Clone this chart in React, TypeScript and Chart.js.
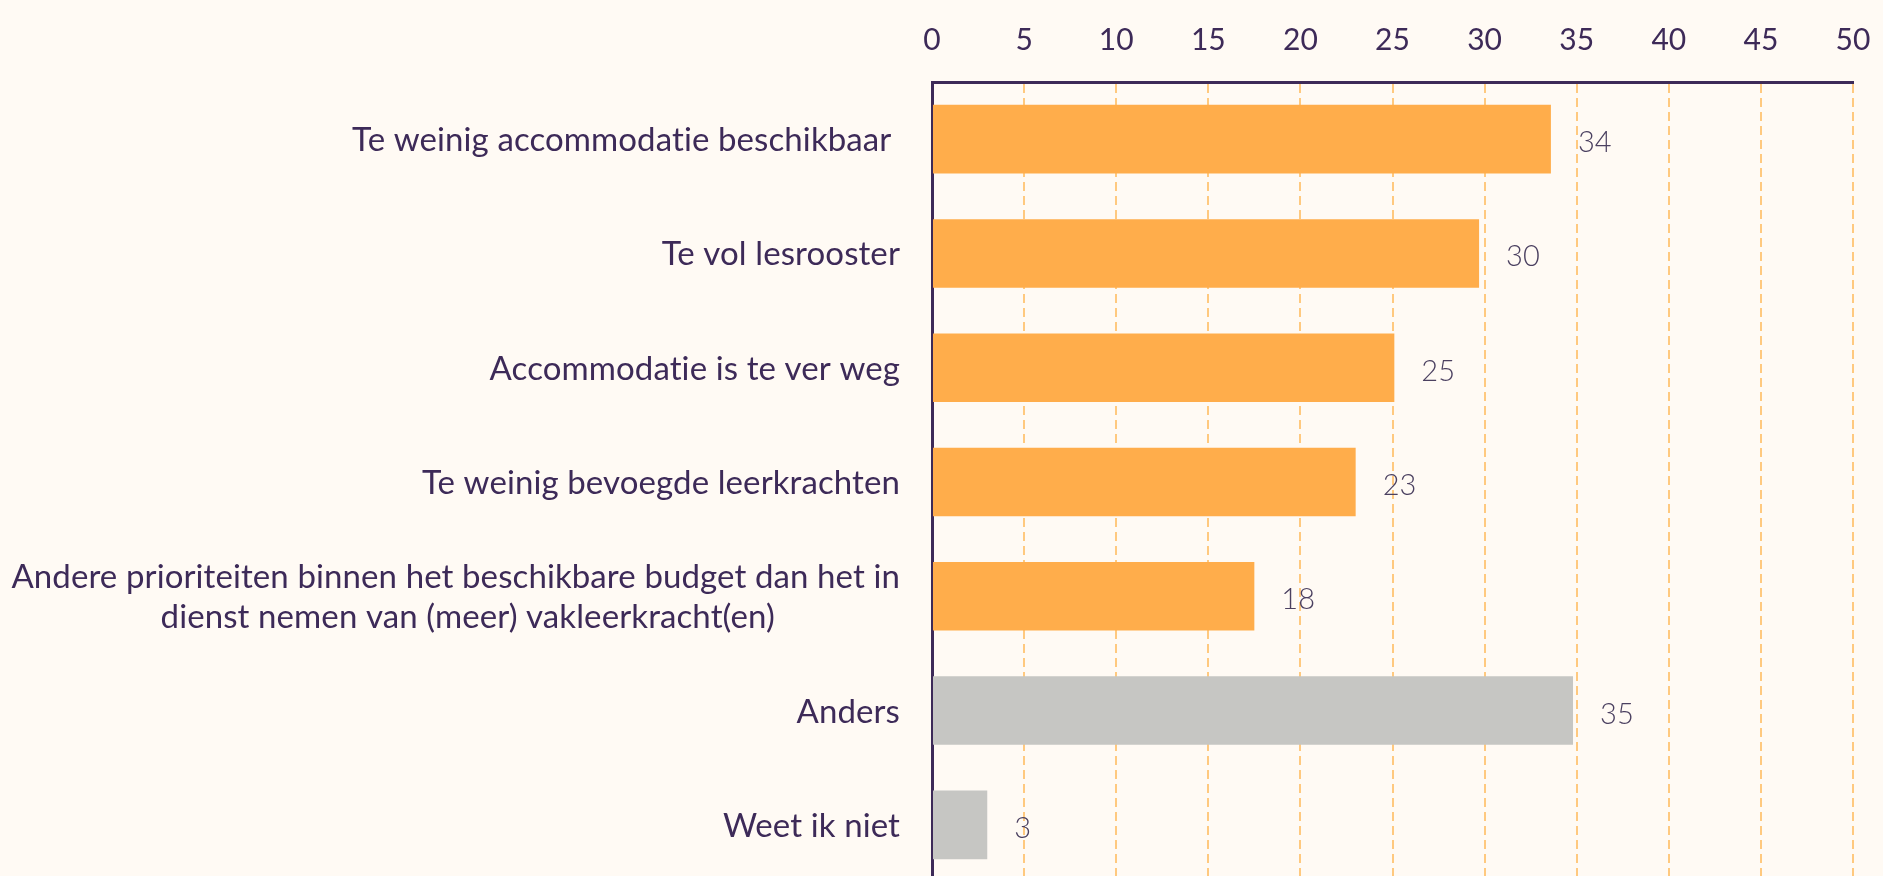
import { useEffect, useRef } from "react";
import Chart from "chart.js/auto";

const categories: (string | string[])[] = [
  "Te weinig accommodatie beschikbaar ",
  "Te vol lesrooster",
  "Accommodatie is te ver weg",
  "Te weinig bevoegde leerkrachten",
  [
    "Andere prioriteiten binnen het beschikbare budget dan het in",
    "dienst nemen van (meer) vakleerkracht(en)",
  ],
  "Anders",
  "Weet ik niet",
];
const values = [33.6, 29.7, 25.1, 23.0, 17.5, 34.8, 3.0];
const valueLabels = ["34", "30", "25", "23", "18", "35", "3"];
const barColors = [
  "#ffad4b",
  "#ffad4b",
  "#ffad4b",
  "#ffad4b",
  "#ffad4b",
  "#c6c6c3",
  "#c6c6c3",
];

const TEXT = "#3d2a58";
const BG = "#fffaf4";

// category labels and value labels drawn by hand so the two-line label can be centred
const labelPlugin = {
  id: "barLabels",
  afterDraw(chart: Chart) {
    const { ctx } = chart;
    const x = chart.scales.x;
    const y = chart.scales.y;
    ctx.save();
    ctx.fillStyle = TEXT;
    ctx.font = "33px Lato";
    (ctx as any).letterSpacing = "0.1px"; // keeps Lato from joining "ti"
    ctx.textBaseline = "alphabetic";
    const right = y.right - 32;
    categories.forEach((cat, i) => {
      const cy = y.getPixelForValue(i);
      const lines = Array.isArray(cat) ? cat : [cat];
      if (lines.length === 1) {
        ctx.textAlign = "right";
        ctx.fillText(lines[0], right, cy + 12);
      } else {
        const w = Math.max(...lines.map((l) => ctx.measureText(l).width));
        const mid = right - w / 2;
        ctx.textAlign = "center";
        const lh = 40;
        lines.forEach((l, j) => {
          const ly = cy + (j - (lines.length - 1) / 2) * lh;
          ctx.fillText(l, mid + (j > 0 ? 12 : 0), ly + 12);
        });
      }
    });
    ctx.font = "300 29px Lato";
    ctx.fillStyle = "#4b4060";
    ctx.textAlign = "left";
    values.forEach((v, i) => {
      const px = x.getPixelForValue(v);
      const cy = y.getPixelForValue(i);
      ctx.fillText(valueLabels[i], px + 27, cy + 13);
    });
    ctx.restore();
  },
};

export default function App() {
  const canvasRef = useRef<HTMLCanvasElement>(null);

  useEffect(() => {
    document.body.style.margin = "0";
    document.body.style.overflow = "hidden";
    document.body.style.background = BG;
    if (!canvasRef.current) return;
    const chart = new Chart(canvasRef.current, {
      type: "bar",
      data: {
        labels: categories.map((c) => (Array.isArray(c) ? c.join(" ") : c)),
        datasets: [
          {
            data: values,
            backgroundColor: barColors,
            barPercentage: 0.6,
            categoryPercentage: 1,
          },
        ],
      },
      options: {
        indexAxis: "y",
        animation: false,
        responsive: true,
        maintainAspectRatio: false,
        layout: { padding: { left: 0, right: 30, top: 0, bottom: 0 } },
        plugins: {
          legend: { display: false },
          tooltip: { enabled: false },
        },
        scales: {
          x: {
            position: "top",
            min: 0,
            max: 50,
            ticks: {
              stepSize: 5,
              color: TEXT,
              font: { family: "Lato", size: 30 },
              padding: 0,
            },
            grid: {
              color: (c: any) => (c.tick && c.tick.value === 0 ? "rgba(0,0,0,0)" : "#ffc97f"),
              lineWidth: 2,
              drawTicks: true,
              tickLength: 24,
              tickColor: "rgba(0,0,0,0)",
            },
            border: { display: true, color: TEXT, width: 3, dash: [9, 5] },
            afterFit(scale: any) {
              scale.height = 82;
            },
          },
          y: {
            ticks: { display: false },
            grid: { display: false, drawTicks: false },
            border: { display: true, color: TEXT, width: 3 },
            afterFit(scale: any) {
              scale.width = 932;
            },
          },
        },
      },
      plugins: [labelPlugin],
    });
    return () => chart.destroy();
  }, []);

  return (
    <div style={{ width: 1883, height: 882, position: "relative", background: BG }}>
      <canvas ref={canvasRef} />
    </div>
  );
}
